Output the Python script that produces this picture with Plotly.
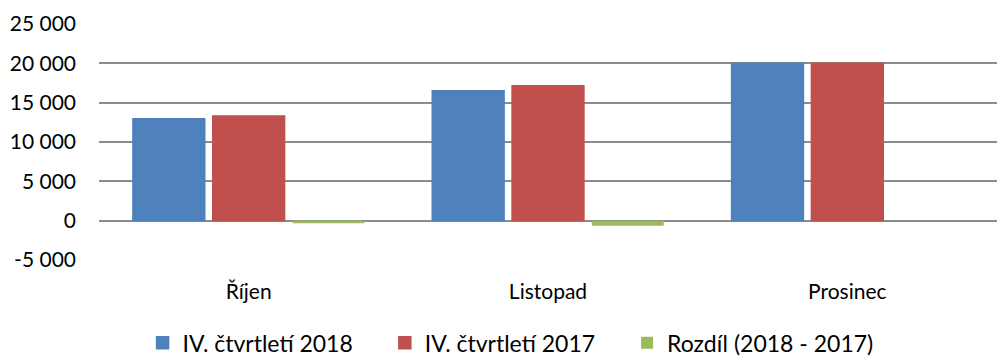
import plotly.graph_objects as go

# Monthly values for Q4, two years, and their difference
months = ["Říjen", "Listopad", "Prosinec"]
q4_2018 = [12950, 16500, 20020]
q4_2017 = [13290, 17150, 20020]
diff = [a - b for a, b in zip(q4_2018, q4_2017)]

series_names = ["IV. čtvrtletí 2018", "IV. čtvrtletí 2017", "Rozdíl (2018 - 2017)"]
series_colors = ["#4F81BD", "#C0504D", "#9BBB59"]
outline_widths = [1.5, 1.5, 0]

y_ticks = [-5000, 0, 5000, 10000, 15000, 20000, 25000]
y_tick_text = ["-5 000", "0", "5 000", "10 000", "15 000", "20 000", "25 000"]

FONT = "Lato"
FSIZE = 21

# one legend box per series so the entries sit on an even grid
legend_ids = ["legend", "legend2", "legend3"]
legend_x = [0.143, 0.386, 0.629]

fig = go.Figure()
for name, vals, col, lw, lg in zip(series_names, [q4_2018, q4_2017, diff],
                                   series_colors, outline_widths, legend_ids):
    fig.add_trace(go.Bar(
        x=months, y=vals, name=name, legend=lg,
        marker=dict(color=col, line=dict(width=lw, color=col)),
    ))

legend_style = dict(
    orientation="h", xanchor="left",
    xref="container", yref="container", y=0.04, yanchor="middle",
    font=dict(family=FONT, size=23), itemwidth=30,
    bgcolor="rgba(0,0,0,0)",
)

fig.update_layout(
    width=997, height=357,
    margin=dict(l=99, r=0, t=24, b=97, autoexpand=False),
    paper_bgcolor="white", plot_bgcolor="white",
    barmode="group", bargap=0.2, bargroupgap=0.1,
    font=dict(family=FONT, size=FSIZE, color="#000000"),
    showlegend=True,
    legend=dict(legend_style, x=legend_x[0]),
    legend2=dict(legend_style, x=legend_x[1]),
    legend3=dict(legend_style, x=legend_x[2]),
)
fig.update_xaxes(
    showgrid=False, showline=False, zeroline=False,
    ticks="", ticklabelstandoff=17,
)
fig.update_yaxes(
    range=[-5000, 25000], tickvals=y_ticks, ticktext=y_tick_text,
    showgrid=True, gridcolor="#8C8C8C", gridwidth=1.6,
    zeroline=True, zerolinecolor="#8C8C8C", zerolinewidth=1.6,
    showline=False, ticks="", ticklabelstandoff=22,
)

fig.write_html("out.html")
